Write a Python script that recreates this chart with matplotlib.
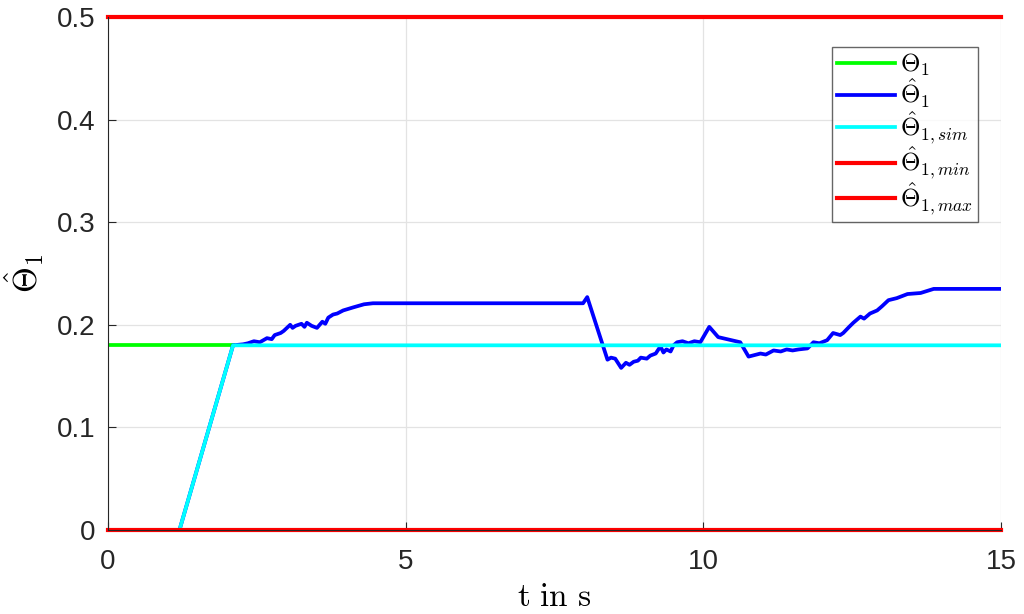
import numpy as np
import matplotlib.pyplot as plt

plt.rcParams['mathtext.fontset'] = 'cm'
plt.rcParams['font.family'] = ['Liberation Sans', 'DejaVu Sans']

# time axis (s) and values
t_ramp = [0.0, 1.2, 2.1, 15.0]
theta_sim = [0.0, 0.0, 0.18, 0.18]

t_true = [0.0, 2.1]
theta_true = [0.18, 0.18]

t_est = [0.0, 1.2, 2.1, 2.27, 2.35, 2.45, 2.55, 2.67, 2.75, 2.8, 2.9, 2.95, 3.06, 3.1,
         3.15, 3.25, 3.3, 3.34, 3.42, 3.51, 3.6, 3.65, 3.7, 3.78, 3.85, 3.95, 4.12,
         4.3, 4.45, 7.98, 8.05, 8.39, 8.45, 8.52, 8.62, 8.7, 8.76, 8.83, 8.9, 8.95,
         9.05, 9.11, 9.2, 9.28, 9.33, 9.38, 9.45, 9.5, 9.56, 9.65, 9.75, 9.85, 9.95,
         10.1, 10.25, 10.62, 10.76, 10.96, 11.05, 11.18, 11.3, 11.4, 11.5, 11.6,
         11.75, 11.85, 11.95, 12.08, 12.18, 12.3, 12.35, 12.45, 12.52, 12.64, 12.7,
         12.8, 12.92, 13.0, 13.11, 13.25, 13.43, 13.65, 13.87, 14.1, 15.0]
theta_est = [0.0, 0.0, 0.18, 0.181, 0.182, 0.184, 0.183, 0.187, 0.186, 0.19, 0.192,
             0.194, 0.2, 0.197, 0.199, 0.201, 0.198, 0.202, 0.199, 0.197, 0.203,
             0.201, 0.207, 0.21, 0.211, 0.214, 0.217, 0.22, 0.221, 0.221, 0.227,
             0.166, 0.168, 0.167, 0.158, 0.163, 0.161, 0.164, 0.165, 0.168, 0.167,
             0.17, 0.172, 0.179, 0.173, 0.176, 0.174, 0.18, 0.183, 0.184, 0.182,
             0.184, 0.183, 0.198, 0.188, 0.183, 0.169, 0.172, 0.171, 0.175, 0.174,
             0.176, 0.175, 0.176, 0.177, 0.183, 0.182, 0.185, 0.192, 0.19, 0.192,
             0.198, 0.202, 0.208, 0.206, 0.211, 0.214, 0.218, 0.224, 0.226, 0.23,
             0.231, 0.235, 0.235, 0.235]

theta_min = 0.0
theta_max = 0.5

fig = plt.figure(figsize=(10.24, 6.14), dpi=100)
ax = fig.add_axes([0.1055, 0.1368, 0.872, 0.8355])

ax.plot(t_true, theta_true, color='#00ff00', lw=2.7, label=r'$\Theta_1$')
ax.plot(t_est, theta_est, color='#0000ff', lw=2.7, label=r'$\hat{\Theta}_1$')
ax.plot(t_ramp, theta_sim, color='#00ffff', lw=2.7, label=r'$\hat{\Theta}_{1,sim}$')
ax.plot([0, 15], [theta_min, theta_min], color='#ff0000', lw=3.0, label=r'$\hat{\Theta}_{1,min}$',
        clip_on=False)
ax.plot([0, 15], [theta_max, theta_max], color='#ff0000', lw=3.0, label=r'$\hat{\Theta}_{1,max}$',
        clip_on=False)

ax.set_xlim(0, 15)
ax.set_ylim(0, 0.5)
ax.set_xticks([0, 5, 10, 15])
ax.set_yticks([0, 0.1, 0.2, 0.3, 0.4, 0.5])
ax.set_yticklabels(['0', '0.1', '0.2', '0.3', '0.4', '0.5'])
ax.grid(True, color='#e3e3e3', lw=0.9)
ax.set_axisbelow(True)
ax.tick_params(direction='in', length=6, width=0.8, labelsize=20, colors='#262626')
ax.tick_params(axis='x', pad=14)
ax.tick_params(axis='y', pad=9)
for s in ['top', 'right']:
    ax.spines[s].set_visible(False)
for s in ['left', 'bottom']:
    ax.spines[s].set_color('#262626')

ax.set_xlabel(r'$\mathrm{t\ in\ s}$', fontsize=24, labelpad=5)
ax.set_ylabel(r'$\hat{\Theta}_1$', fontsize=24, labelpad=8)

leg = ax.legend(loc='upper right', bbox_to_anchor=(0.974, 0.9415), borderaxespad=0,
                fontsize=18, frameon=True, fancybox=False, edgecolor='#404040',
                handlelength=2.3, borderpad=0.2, labelspacing=-0.05, handletextpad=0.2)
leg.get_frame().set_linewidth(1.0)

fig.savefig('out.png', dpi=100)
